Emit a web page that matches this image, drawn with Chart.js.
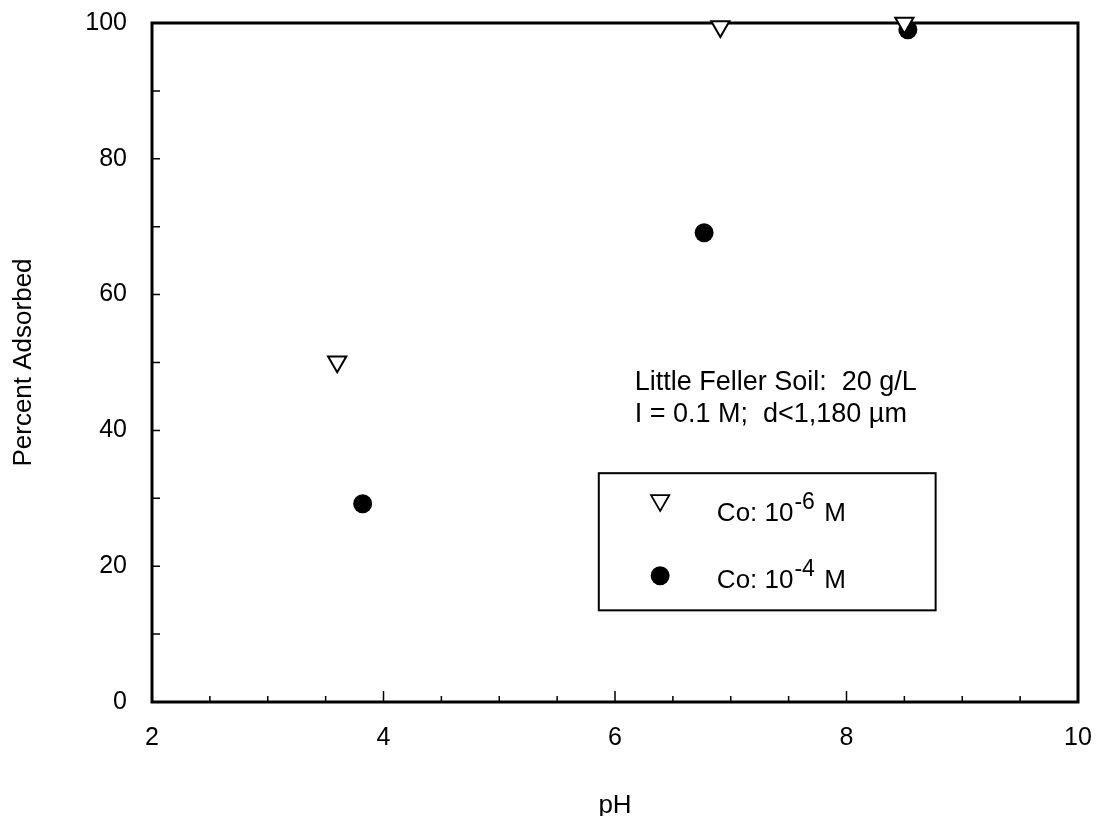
<!DOCTYPE html>
<html lang="en">
<head>
    <meta charset="UTF-8">
    <title>Percent Adsorbed vs pH</title>
    <script src="https://cdn.jsdelivr.net/npm/chart.js"></script>
    <style>
        html, body { margin: 0; padding: 0; background: #fff; }
        #wrap { width: 1098px; height: 816px; }
    </style>
</head>
<body>
    <div id="wrap"><canvas id="adsChart"></canvas></div>
    <script>
        // Data
        const phLow = [3.60, 6.91, 8.50];     // Co: 1e-6 M
        const adsLow = [50.1, 99.5, 100.0];
        const phHigh = [3.82, 6.77, 8.53];    // Co: 1e-4 M
        const adsHigh = [29.2, 69.1, 99.0];

        const xMajor = [2, 4, 6, 8, 10];
        const yMajor = [0, 20, 40, 60, 80, 100];
        const noteLines = ['Little Feller Soil:  20 g/L', 'I = 0.1 M;  d<1,180 \u00b5m'];
        const legendItems = [
            { label: 'Co: 10', exp: '-6', unit: ' M', style: 'triangle' },
            { label: 'Co: 10', exp: '-4', unit: ' M', style: 'circle' }
        ];

        const FONT = '"Liberation Sans", Arial, Helvetica, sans-serif';

        const toPoints = (xs, ys) => xs.map((x, i) => ({ x: x, y: ys[i] }));

        // frame, inward ticks, note text and legend box
        const framePlugin = {
            id: 'frame',
            beforeDatasetsDraw(chart) {
                const { ctx, chartArea: a, scales } = chart;
                const xs = scales.x, ys = scales.y;
                ctx.save();
                ctx.strokeStyle = '#000';
                ctx.lineWidth = 3;
                ctx.strokeRect(a.left, a.top, a.right - a.left, a.bottom - a.top);

                ctx.lineWidth = 1.5;
                ctx.beginPath();
                for (let v = 2.5; v < 10; v += 0.5) {
                    const px = xs.getPixelForValue(v);
                    const len = xMajor.includes(v) ? 11 : 6;
                    ctx.moveTo(px, a.bottom);
                    ctx.lineTo(px, a.bottom - len);
                }
                for (let v = 10; v < 100; v += 10) {
                    const py = ys.getPixelForValue(v);
                    ctx.moveTo(a.left, py);
                    ctx.lineTo(a.left + 8, py);
                }
                ctx.stroke();

                // annotation
                ctx.fillStyle = '#000';
                ctx.font = '27px ' + FONT;
                ctx.textBaseline = 'middle';
                ctx.textAlign = 'left';
                const nx = xs.getPixelForValue(6.17);
                ctx.fillText(noteLines[0], nx, ys.getPixelForValue(47.0));
                ctx.fillText(noteLines[1], nx, ys.getPixelForValue(42.3));

                // legend box
                const bx = xs.getPixelForValue(5.86), bx2 = xs.getPixelForValue(8.77);
                const by = ys.getPixelForValue(33.7), by2 = ys.getPixelForValue(13.5);
                ctx.lineWidth = 2;
                ctx.strokeRect(bx, by, bx2 - bx, by2 - by);

                const symX = xs.getPixelForValue(6.39);
                const txtX = xs.getPixelForValue(6.88);
                const symRows = [ys.getPixelForValue(29.7), ys.getPixelForValue(18.6)];
                const txtRows = [ys.getPixelForValue(26.7), ys.getPixelForValue(16.8)];
                legendItems.forEach((it, i) => {
                    ctx.strokeStyle = '#000';
                    ctx.lineWidth = 1.8;
                    if (it.style === 'triangle') {
                        ctx.fillStyle = '#fff';
                        Chart.helpers.drawPoint(ctx, {
                            pointStyle: 'triangle', rotation: 180, radius: 10.5, borderWidth: 1.8
                        }, symX, symRows[i]);
                    } else {
                        ctx.fillStyle = '#000';
                        Chart.helpers.drawPoint(ctx, {
                            pointStyle: 'circle', rotation: 0, radius: 9.5, borderWidth: 0
                        }, symX, symRows[i]);
                    }
                    ctx.fillStyle = '#000';
                    ctx.font = '26px ' + FONT;
                    ctx.textBaseline = 'alphabetic';
                    const base = txtRows[i];
                    ctx.fillText(it.label, txtX, base);
                    let w = ctx.measureText(it.label).width;
                    ctx.font = '23px ' + FONT;
                    ctx.fillText(it.exp, txtX + w + 1, base - 12);
                    w += ctx.measureText(it.exp).width + 3;
                    ctx.font = '26px ' + FONT;
                    ctx.fillText(it.unit, txtX + w, base);
                });
                ctx.restore();
            }
        };

        new Chart(document.getElementById('adsChart'), {
            type: 'scatter',
            data: {
                datasets: [{
                    label: 'Co: 10-6 M',
                    data: toPoints(phLow, adsLow),
                    pointStyle: 'triangle',
                    rotation: 180,
                    pointRadius: 10.5,
                    pointBorderWidth: 2,
                    borderColor: '#000',
                    backgroundColor: '#fff',
                    clip: false
                }, {
                    label: 'Co: 10-4 M',
                    data: toPoints(phHigh, adsHigh),
                    pointStyle: 'circle',
                    pointRadius: 9.5,
                    pointBorderWidth: 0,
                    borderColor: '#000',
                    backgroundColor: '#000',
                    clip: false
                }]
            },
            options: {
                responsive: true,
                maintainAspectRatio: false,
                animation: false,
                layout: { padding: { top: 23, right: 20, left: 0, bottom: 0 } },
                plugins: {
                    legend: { display: false },
                    tooltip: { enabled: false }
                },
                scales: {
                    x: {
                        type: 'linear',
                        min: 2,
                        max: 10,
                        afterFit(s) { s.height = 114; s.paddingLeft = 0; s.paddingRight = 0; },
                        grid: { display: false },
                        border: { display: false },
                        ticks: {
                            stepSize: 2,
                            padding: 13,
                            color: '#000',
                            font: { family: FONT, size: 25 },
                            maxRotation: 0
                        },
                        title: {
                            display: true,
                            text: 'pH',
                            color: '#000',
                            font: { family: FONT, size: 26 },
                            padding: { top: 0, bottom: -5 }
                        }
                    },
                    y: {
                        type: 'linear',
                        min: 0,
                        max: 100,
                        afterFit(s) { s.width = 152; s.paddingTop = 0; s.paddingBottom = 0; },
                        grid: { display: false },
                        border: { display: false },
                        ticks: {
                            stepSize: 20,
                            padding: 17,
                            color: '#000',
                            font: { family: FONT, size: 25 }
                        },
                        title: {
                            display: true,
                            text: 'Percent Adsorbed',
                            color: '#000',
                            font: { family: FONT, size: 26 },
                            padding: { top: 8, bottom: 0 }
                        }
                    }
                }
            },
            plugins: [framePlugin]
        });
    </script>
</body>
</html>
